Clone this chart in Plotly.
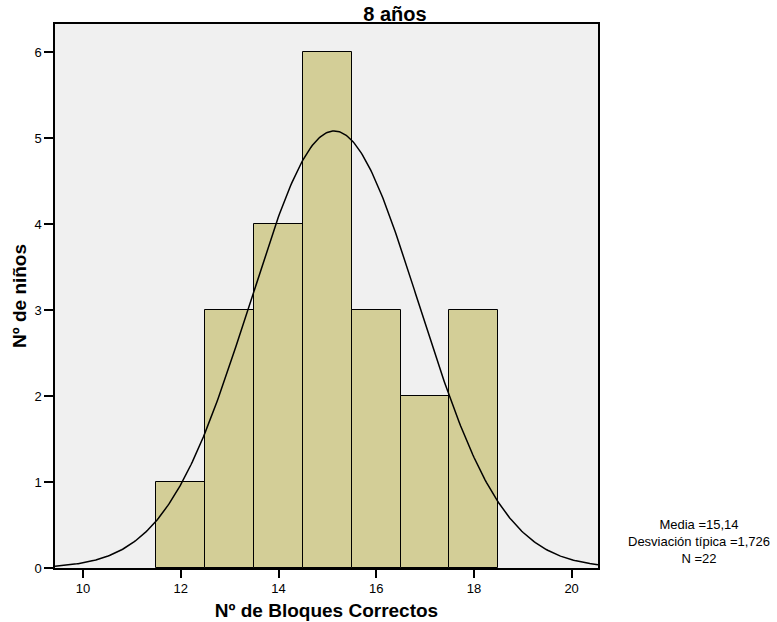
import numpy as np
import plotly.graph_objects as go

# Data
bin_centers = [12, 13, 14, 15, 16, 17, 18]
counts = [1, 3, 4, 6, 3, 2, 3]
mean_val = 15.14
sd_val = 1.726
n_val = 22
x_ticks = [10, 12, 14, 16, 18, 20]
y_ticks = [0, 1, 2, 3, 4, 5, 6]

title_text = "8 años"
x_title = "Nº de Bloques Correctos"
y_title = "Nº de niños"

x_range = [9.425, 20.54]
y_range = [0, 6.33]

# fitted normal curve (SPSS style), scaled by N * bin width
xs = np.linspace(x_range[0], x_range[1], 400)
ys = n_val * 1.0 / (sd_val * np.sqrt(2 * np.pi)) * np.exp(-0.5 * ((xs - mean_val) / sd_val) ** 2)

fig = go.Figure()
fig.add_trace(go.Bar(
    x=bin_centers, y=counts, width=1.0,
    marker=dict(color="#d3ce97", line=dict(color="#000000", width=1)),
    showlegend=False, hoverinfo="skip",
))
fig.add_trace(go.Scatter(
    x=xs, y=ys, mode="lines",
    line=dict(color="#000000", width=1.5),
    showlegend=False, hoverinfo="skip",
))

font_family = "Liberation Sans, Arial, sans-serif"
W, H = 777, 622
L, T, R, B = 55, 24, 777 - 598, 622 - 568

fig.update_layout(
    width=W, height=H,
    margin=dict(l=L, r=R, t=T, b=B, autoexpand=False),
    paper_bgcolor="#ffffff",
    plot_bgcolor="#f0f0f0",
    font=dict(family=font_family, color="#000000", size=13),
    bargap=0,
    title=dict(text="<b>" + title_text + "</b>", x=395 / W, xanchor="center",
               y=1 - 14 / H, yanchor="middle", font=dict(size=20, family=font_family)),
)
fig.update_xaxes(
    range=x_range, tickvals=x_ticks, ticktext=[str(v) for v in x_ticks],
    showgrid=False, zeroline=False, automargin=False,
    showline=True, linecolor="#000000", linewidth=1.5, mirror=True,
    ticks="outside", ticklen=8, tickwidth=1.5, tickcolor="#000000",
    tickfont=dict(size=13),
    title=dict(text="<b>" + x_title + "</b>", font=dict(size=19), standoff=8),
)
fig.update_yaxes(
    range=y_range, tickvals=y_ticks, ticktext=[str(v) for v in y_ticks],
    showgrid=False, zeroline=False, automargin=False,
    showline=True, linecolor="#000000", linewidth=1.5, mirror=True,
    ticks="outside", ticklen=9, tickwidth=1.5, tickcolor="#000000",
    tickfont=dict(size=13),
    title=dict(text="<b>" + y_title + "</b>", font=dict(size=19), standoff=3),
)

stats_text = ("Media =" + f"{mean_val:.2f}".replace(".", ",") + "<br>"
              + "Desviación típica =" + f"{sd_val:.3f}".replace(".", ",") + "<br>"
              + "N =" + str(n_val))
fig.add_annotation(
    text=stats_text, xref="paper", yref="paper",
    x=(699 - 55) / 543, y=(568 - 541) / 544, xanchor="center", yanchor="middle",
    showarrow=False, align="center", borderpad=0, font=dict(size=13, family=font_family),
)

fig.write_html(
    "out.html",
    config={"displayModeBar": False},
    post_script="document.body.style.margin='0';document.body.style.overflow='hidden';",
)
